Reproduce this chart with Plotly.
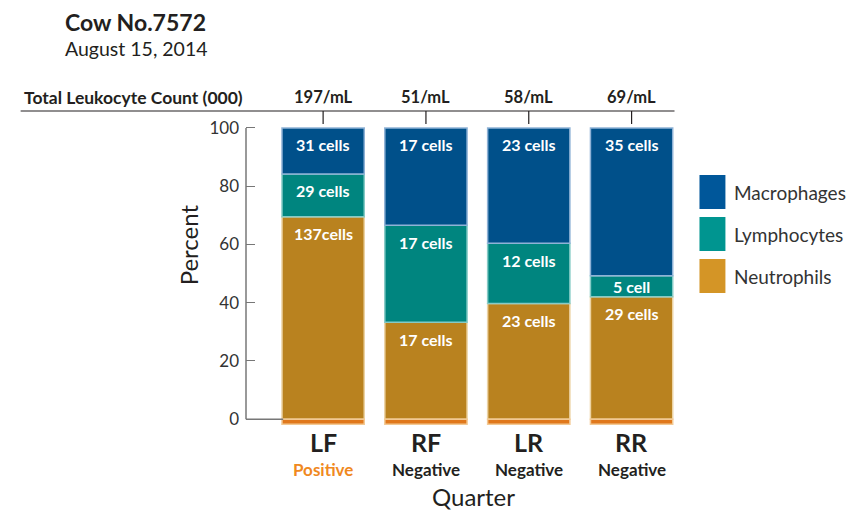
import plotly.graph_objects as go

quarters = ["LF", "RF", "LR", "RR"]
status = ["Positive", "Negative", "Negative", "Negative"]
total_count = ["197/mL", "51/mL", "58/mL", "69/mL"]

# percent of cells
neutrophils = [69.5, 33.3, 39.7, 42.0]
lymphocytes = [14.7, 33.3, 20.7, 7.2]
macrophages = [15.8, 33.4, 39.6, 50.8]

neutrophil_labels = ["137cells", "17 cells", "23 cells", "29 cells"]
lymphocyte_labels = ["29 cells", "17 cells", "12 cells", "5 cell"]
macrophage_labels = ["31 cells", "17 cells", "23 cells", "35 cells"]

base_strip = [-1.7, -1.7, -1.7, -1.7]

FONT = "Lato"
DARK = "#231f20"

# page is drawn with an 8px body margin, so pixel -> paper uses these
PX0, PW = 245.75, 437.75
PY0, PH = 425, 300


def px(x):
    return (x - PX0) / PW


def py(y):
    return (PY0 - y) / PH


fig = go.Figure()
series = [
    ("Neutrophils", neutrophils, "#b9821f", "#ecd3a4"),
    ("Lymphocytes", lymphocytes, "#00857f", "#86cbc6"),
    ("Macrophages", macrophages, "#00508a", "#8fb2d6"),
]
for name, vals, col, edge in series:
    fig.add_trace(go.Bar(
        x=quarters, y=vals, name=name, width=0.8,
        marker=dict(color=col, line=dict(color=edge, width=1.5)),
        showlegend=False, hoverinfo="skip",
    ))
fig.add_trace(go.Bar(
    x=quarters, y=base_strip, width=0.8,
    marker=dict(color="#e0781c", line=dict(color="#f3c993", width=1.5)),
    showlegend=False, hoverinfo="skip",
))

ann = []
for i, q in enumerate(quarters):
    bottom = 0
    for vals, labels in [(neutrophils, neutrophil_labels),
                         (lymphocytes, lymphocyte_labels),
                         (macrophages, macrophage_labels)]:
        top = bottom + vals[i]
        seg_px = vals[i] * 2.91
        shift = -min(17, seg_px / 2)
        ann.append(dict(x=q, y=top, xref="x", yref="y", text="<b>%s</b>" % labels[i],
                        showarrow=False, xanchor="center", yanchor="middle", yshift=shift,
                        font=dict(family=FONT, size=16, color="white")))
        bottom = top
    ann.append(dict(x=q, y=py(97), xref="x", yref="paper", text="<b>%s</b>" % total_count[i],
                    showarrow=False, xanchor="center", yanchor="middle",
                    font=dict(family=FONT, size=16.5, color=DARK)))
    ann.append(dict(x=q, y=py(442), xref="x", yref="paper", text="<b>%s</b>" % q,
                    showarrow=False, xanchor="center", yanchor="middle",
                    font=dict(family=FONT, size=25, color=DARK)))
    scol = "#f0891e" if status[i] == "Positive" else DARK
    ann.append(dict(x=q, y=py(469), xref="x", yref="paper", text="<b>%s</b>" % status[i],
                    showarrow=False, xanchor="center", yanchor="middle",
                    font=dict(family=FONT, size=17, color=scol)))

ann += [
    dict(x=px(62), y=py(22), xref="paper", yref="paper", xanchor="left", yanchor="middle",
         text="<b>Cow No.7572</b>", showarrow=False,
         font=dict(family=FONT, size=23, color=DARK)),
    dict(x=px(62), y=py(48), xref="paper", yref="paper", xanchor="left", yanchor="middle",
         text="August 15, 2014", showarrow=False,
         font=dict(family=FONT, size=19.5, color=DARK)),
    dict(x=px(21), y=py(97), xref="paper", yref="paper", xanchor="left", yanchor="middle",
         text="<b>Total Leukocyte Count (000)</b>", showarrow=False,
         font=dict(family=FONT, size=17.5, color=DARK)),
    dict(x=px(474), y=py(496), xref="paper", yref="paper", xanchor="center", yanchor="middle",
         text="Quarter", showarrow=False,
         font=dict(family=FONT, size=24, color=DARK)),
    dict(x=px(188), y=py(245), xref="paper", yref="paper", xanchor="center", yanchor="middle",
         text="Percent", textangle=-90, showarrow=False,
         font=dict(family=FONT, size=24, color=DARK)),
]

shapes = [
    dict(type="line", xref="paper", yref="paper", x0=px(20), x1=px(675), y0=py(111), y1=py(111),
         line=dict(color=DARK, width=1.2)),
    dict(type="line", xref="paper", yref="y", x0=0, x1=0, y0=0, y1=100,
         line=dict(color="#777777", width=1.5)),
    dict(type="line", xref="paper", yref="y", x0=0, x1=px(283), y0=0, y1=0,
         line=dict(color="#777777", width=1.5)),
]
for q in quarters:
    shapes.append(dict(type="line", xref="x", yref="paper", x0=q, x1=q, y0=py(111), y1=py(124),
                       line=dict(color=DARK, width=1.2)))

legend_items = [("Macrophages", "#00579a"), ("Lymphocytes", "#009590"), ("Neutrophils", "#d49526")]
for k, (name, col) in enumerate(legend_items):
    y_top = 175 + k * 42
    shapes.append(dict(type="rect", xref="paper", yref="paper",
                       x0=px(700), x1=px(726), y0=py(y_top + 34), y1=py(y_top),
                       fillcolor=col, line=dict(width=0)))
    ann.append(dict(x=px(733), y=py(y_top + 17), xref="paper", yref="paper",
                    xanchor="left", yanchor="middle", text=name, showarrow=False,
                    font=dict(family=FONT, size=19, color="#333333")))

fig.update_layout(
    width=864, height=511,
    margin=dict(l=237.75, r=188.5, t=117, b=94),
    barmode="relative",
    plot_bgcolor="white", paper_bgcolor="white",
    annotations=ann, shapes=shapes,
    xaxis=dict(range=[-0.75, 3.5], showticklabels=False, showgrid=False, zeroline=False,
               showline=False, ticks=""),
    yaxis=dict(range=[-2, 101], tickvals=[0, 20, 40, 60, 80, 100], showgrid=False,
               zeroline=False, showline=False, ticks="inside", ticklen=9, tickwidth=1.2,
               tickcolor="#777777", ticklabelstandoff=6,
               tickfont=dict(family=FONT, size=17, color="#333333")),
)

fig.write_html("out.html")
